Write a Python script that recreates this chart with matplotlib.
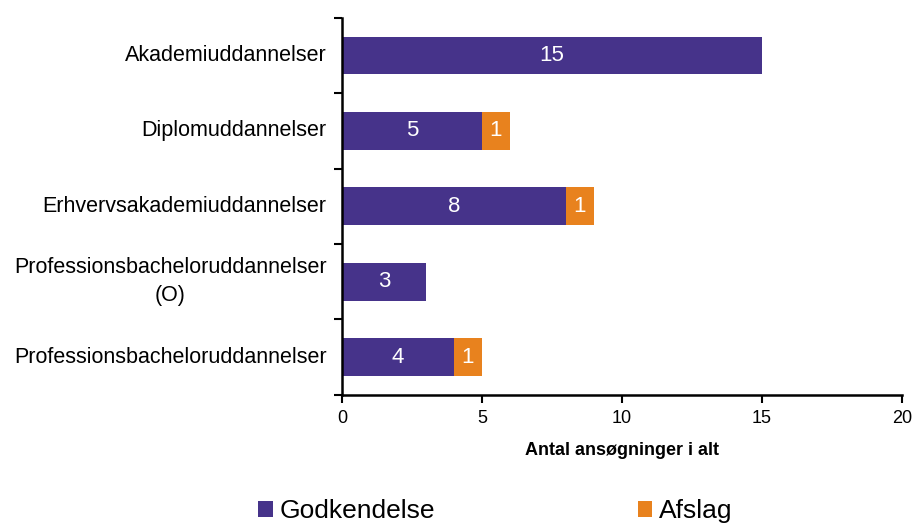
import matplotlib.pyplot as plt
import numpy as np

plt.rcParams['font.family'] = ['Liberation Sans', 'DejaVu Sans']

categories = ['Akademiuddannelser', 'Diplomuddannelser', 'Erhvervsakademiuddannelser',
              'Professionsbacheloruddannelser\n(O)', 'Professionsbacheloruddannelser']
godkendelse = [15, 5, 8, 3, 4]
afslag = [0, 1, 1, 0, 1]

purple = '#46338A'
orange = '#E8821E'

fig = plt.figure(figsize=(9.14, 5.25), dpi=100)
ax = fig.add_axes([0.374, 0.248, 0.613, 0.718])

y = np.arange(len(categories))[::-1]
b1 = ax.barh(y, godkendelse, height=0.5, color=purple, label='Godkendelse')
b2 = ax.barh(y, afslag, left=godkendelse, height=0.5, color=orange, label='Afslag')

for rect, v in zip(b1, godkendelse):
    if v > 0:
        ax.text(rect.get_x() + rect.get_width() / 2, rect.get_y() + rect.get_height() / 2,
                str(v), ha='center', va='center', color='white', fontsize=16)
for rect, v in zip(b2, afslag):
    if v > 0:
        ax.text(rect.get_x() + rect.get_width() / 2, rect.get_y() + rect.get_height() / 2,
                str(v), ha='center', va='center', color='white', fontsize=16)

ax.set_xlim(0, 20)
ax.set_ylim(-0.5, len(categories) - 0.5)
ax.set_xticks([0, 5, 10, 15, 20])
ax.tick_params(axis='x', labelsize=13, length=6, width=1.5, direction='out', pad=5)

# category labels between boundary ticks
ax.set_yticks(np.arange(-0.5, len(categories), 1))
ax.set_yticklabels([])
ax.tick_params(axis='y', length=6, width=1.5, direction='out')
for yi, lab in zip(y, categories):
    ax.text(-0.55, yi, lab, ha='right', va='center', fontsize=15.5,
            multialignment='center', linespacing=1.45)

for s in ['top', 'right']:
    ax.spines[s].set_visible(False)
for s in ['left', 'bottom']:
    ax.spines[s].set_linewidth(1.8)

ax.set_xlabel('Antal ansøgninger i alt', fontsize=13, fontweight='bold', labelpad=11)

fig.legend(handles=[b1, b2], loc='center', bbox_to_anchor=(0.542, 0.026), ncol=2,
           frameon=False, fontsize=19, columnspacing=7.7, handlelength=0.55,
           handleheight=0.55, handletextpad=0.25)

fig.savefig('out.png', dpi=100)
